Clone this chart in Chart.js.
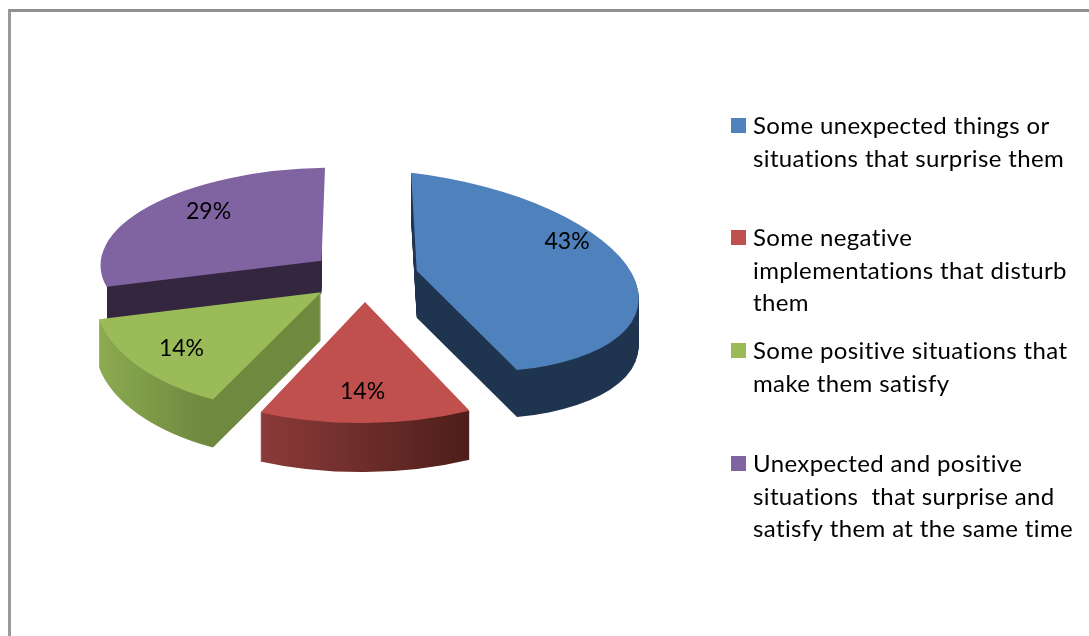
<!DOCTYPE html>
<html>
<head>
<meta charset="utf-8">
<style>
html,body{margin:0;padding:0;background:#fff;overflow:hidden;width:1089px;height:636px}
#frame{position:absolute;left:8px;top:9px;width:1081px;height:627px;box-sizing:border-box;border-left:3px solid #999;border-top:3px solid #909090}
canvas{position:absolute;left:0;top:0}
</style>
</head>
<body>
<div id="frame"></div>
<canvas id="c" width="1089" height="636"></canvas>
<script src="https://cdn.jsdelivr.net/npm/chart.js@4"></script>
<script>
const categoryLines = [
  ["Some unexpected things or", "situations that surprise them"],
  ["Some negative", "implementations that disturb", "them"],
  ["Some positive situations that", "make them satisfy"],
  ["Unexpected and positive", "situations  that surprise and", "satisfy them at the same time"]
];
const values = [43, 14, 14, 29];
const topColors = ["#4F81BD", "#C0504D", "#9BBB59", "#8064A2"];

// Styling: exploded offset, local view matrix, wall depth and wall colours for each slice
const explode = [212, 232, 228, 220];
const views = [[222, 6, 25, 98], [246, 0, -2, 121], [226, -13, 3, 120], [221, -3.5, -3, 93]];
const depths = [47, 49, 48, 33];
const wallShades = [
  {from: 0, to: 1, stops: ["#1F344F", "#1F344F"]},
  {from: -0.43, to: 0.43, stops: ["#8C3B39", "#4D1E1A"]},
  {from: -1, to: -0.45, stops: ["#8FAE52", "#6F893F"]},
  {from: 0, to: 1, stops: ["#35263F", "#35263F"]}
];
const wallClips = [null, null, null, [-0.97, 0]];
const labelSpots = [[0.69, -0.47], [-0.01, 0.74], [-0.59, 0.48], [-0.52, -0.55]];
const drawOrder = [3, 0, 2, 1];
const tilt = 0.45;
const FONT = "Lato, Carlito, sans-serif";
const labelSize = 23;
const legendSize = 24;

function withView(ctx, arc, i, fn) {
  const mid = (arc.startAngle + arc.endAngle) / 2;
  const shift = explode[i] / 4;
  const fix = 1 - Math.sin(Math.min(Math.PI, arc.circumference));
  const outer = arc.outerRadius + shift * fix;
  const lx = arc.x + Math.cos(mid) * shift, ly = arc.y + Math.sin(mid) * shift;
  const ax = arc.x + Math.cos(mid) * shift, ay = arc.y + tilt * Math.sin(mid) * shift;
  const [a, b, c, d] = views[i];
  ctx.save();
  ctx.translate(ax, ay);
  fn({lx, ly, outer, a, apply() {
    ctx.transform(a / outer, c / outer, b / outer, d / outer, 0, 0);
    ctx.translate(-lx, -ly);
  }});
  ctx.restore();
}

const pie3d = {
  id: 'pie3d',
  beforeDatasetsDraw(chart) {
    const ctx = chart.ctx;
    const arcs = chart.getDatasetMeta(0).data;
    drawOrder.forEach(i => {
      const arc = arcs[i];
      const base = arc.options;
      withView(ctx, arc, i, v => {
        ctx.save();
        if (wallClips[i]) {
          ctx.beginPath();
          ctx.rect(v.a * wallClips[i][0], -1000, v.a * (wallClips[i][1] - wallClips[i][0]), 2000);
          ctx.clip();
        }
        for (let dy = depths[i]; dy >= 1; dy--) {
          ctx.save();
          ctx.translate(0, dy);
          v.apply();
          const s = wallShades[i];
          const g = ctx.createLinearGradient(v.lx + s.from * v.outer, 0, v.lx + s.to * v.outer, 0);
          g.addColorStop(0, s.stops[0]);
          g.addColorStop(1, s.stops[1]);
          arc.options = Object.create(base, {backgroundColor: {value: g}});
          arc.draw(ctx);
          ctx.restore();
        }
        ctx.restore();
        arc.options = base;
        ctx.save();
        v.apply();
        arc.draw(ctx);
        ctx.restore();
      });
    });
    return false;
  },
  afterDraw(chart) {
    const ctx = chart.ctx;
    const arcs = chart.getDatasetMeta(0).data;
    const total = values.reduce((p, q) => p + q, 0);
    ctx.save();
    ctx.fillStyle = "#000";
    ctx.font = labelSize + "px " + FONT;
    ctx.textAlign = "center";
    ctx.textBaseline = "middle";
    arcs.forEach((arc, i) => {
      const mid = (arc.startAngle + arc.endAngle) / 2;
      const shift = explode[i] / 4;
      const ax = arc.x + Math.cos(mid) * shift, ay = arc.y + tilt * Math.sin(mid) * shift;
      const [a, b, c, d] = views[i];
      const [u, w] = labelSpots[i];
      ctx.fillText(Math.round(values[i] / total * 100) + "%", ax + a * u + b * w, ay + c * u + d * w);
    });
    // legend
    const baselines = [134, 246, 359, 472];
    const lineGap = 32.5;
    ctx.font = legendSize + "px " + FONT;
    ctx.letterSpacing = "0.37px";
    ctx.textAlign = "left";
    ctx.textBaseline = "alphabetic";
    categoryLines.forEach((lines, i) => {
      ctx.fillStyle = topColors[i];
      ctx.fillRect(731, baselines[i] - 16, 15, 15);
      ctx.fillStyle = "#000";
      lines.forEach((t, j) => ctx.fillText(t, 753, baselines[i] + j * lineGap));
    });
    ctx.restore();
  }
};

new Chart(document.getElementById('c'), {
  type: 'pie',
  data: {
    labels: categoryLines.map(l => l.join(" ")),
    datasets: [{data: values, backgroundColor: topColors, borderWidth: 0, offset: explode}]
  },
  options: {
    responsive: false,
    animation: false,
    devicePixelRatio: 1,
    radius: 3000,
    layout: {padding: {left: 0, top: 0, right: 359, bottom: 84}},
    plugins: {legend: {display: false}, tooltip: {enabled: false}}
  },
  plugins: [pie3d]
});
</script>
</body>
</html>
